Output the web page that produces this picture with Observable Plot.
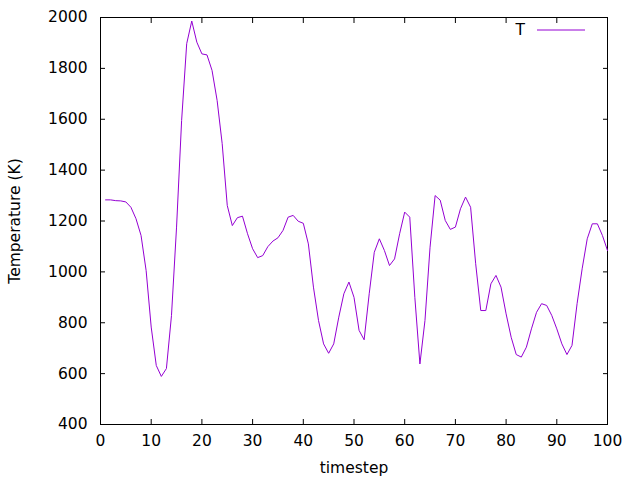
<!DOCTYPE html>
<html><head><meta charset="utf-8">
<script src="https://cdn.jsdelivr.net/npm/d3@7"></script>
<script src="https://cdn.jsdelivr.net/npm/@observablehq/plot@0.6"></script>
<style>
body{margin:0;background:#fff;}
#wrap{position:relative;width:640px;height:480px;}
#legend{position:absolute;left:0;top:0;}
</style>
</head><body><div id="wrap"></div>
<script>
const timestep = d3.range(1, 101);
const temperature = [
1283,1283,1280,1279,1275,1254,1209,1143,1005,783,
632,589,620,828,1176,1595,1897,1986,1903,1857,
1853,1792,1674,1504,1261,1182,1213,1219,1150,1091,
1056,1064,1099,1121,1134,1163,1215,1222,1199,1191,
1110,940,809,717,680,717,822,914,960,900,
770,733,914,1077,1130,1084,1025,1051,1150,1235,
1215,900,638,809,1097,1300,1282,1202,1167,1176,
1248,1294,1254,1032,848,848,953,986,940,835,
743,675,665,704,776,841,875,868,829,776,
717,675,711,875,1012,1130,1189,1189,1143,1084];
const xTicks = [0,10,20,30,40,50,60,70,80,90,100];
const yTicks = [400,600,800,1000,1200,1400,1600,1800,2000];
const seriesName = "T";
const data = timestep.map((t,i)=>({t, T: temperature[i]}));
const color = "#9400d3";
const tick = 5;

const chart = Plot.plot({
  width: 640, height: 480,
  marginLeft: 100, marginRight: 33, marginTop: 17, marginBottom: 56,
  style: {fontFamily: "DejaVu Sans", fontSize: "15.5px", color: "#000", background: "#fff"},
  x: {domain: [0,100]},
  y: {domain: [400,2000]},
  marks: [
    Plot.frame({stroke: "#000", strokeWidth: 1}),
    Plot.line(data, {x: "t", y: "T", stroke: color, strokeWidth: 1}),
    Plot.axisX(xTicks, {anchor: "bottom", tickSize: 0, tickPadding: 10, tickFormat: d => String(d), label: "timestep", labelAnchor: "center", labelArrow: "none", labelOffset: 48}),
    Plot.axisX(xTicks, {anchor: "bottom", tickSize: tick, dy: -tick, tickFormat: () => "", label: null}),
    Plot.axisX(xTicks, {anchor: "top", tickSize: tick, dy: tick, tickFormat: () => "", label: null}),
    Plot.axisY(yTicks, {anchor: "left", tickSize: 0, tickPadding: 13, tickFormat: d => String(d), label: "Temperature (K)", labelAnchor: "center", labelArrow: "none", labelOffset: 92}),
    Plot.axisY(yTicks, {anchor: "left", tickSize: tick, dx: tick, tickFormat: () => "", label: null}),
    Plot.axisY(yTicks, {anchor: "right", tickSize: tick, dx: -tick, tickFormat: () => "", label: null})
  ]
});
const wrap = document.getElementById("wrap");
wrap.appendChild(chart);
const ns = "http://www.w3.org/2000/svg";
const leg = document.createElementNS(ns, "svg");
leg.setAttribute("id","legend"); leg.setAttribute("width",640); leg.setAttribute("height",60);
const txt = document.createElementNS(ns,"text");
txt.setAttribute("x",525); txt.setAttribute("y",30); txt.setAttribute("text-anchor","end");
txt.setAttribute("dominant-baseline","central");
txt.setAttribute("font-family","DejaVu Sans"); txt.setAttribute("font-size","15.5px");
txt.textContent = seriesName;
leg.appendChild(txt);
const ln = document.createElementNS(ns,"line");
ln.setAttribute("x1",537); ln.setAttribute("x2",585); ln.setAttribute("y1",30); ln.setAttribute("y2",30);
ln.setAttribute("stroke",color); ln.setAttribute("stroke-width",1);
leg.appendChild(ln);
wrap.appendChild(leg);
</script></body></html>
